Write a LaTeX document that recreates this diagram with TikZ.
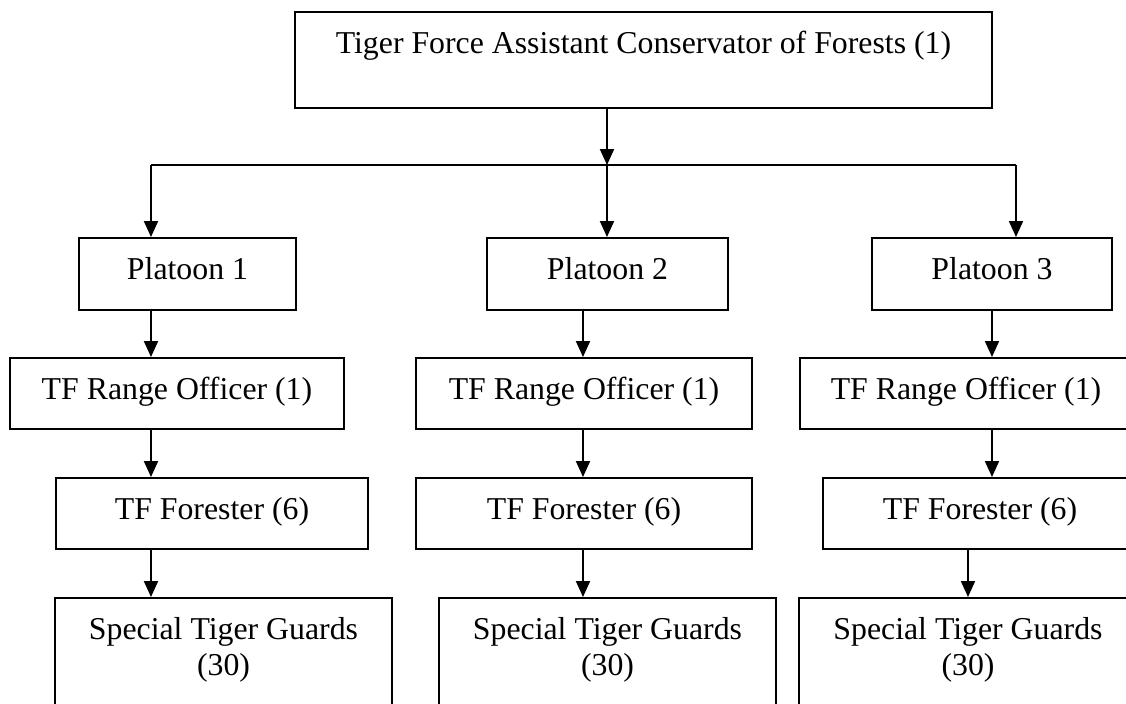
\documentclass[tikz,border=0pt]{standalone}
\usepackage{fontspec}
\setmainfont[Ligatures=NoCommon]{Liberation Serif}
\usetikzlibrary{arrows.meta}

\tikzset{
  unit/.style={draw, inner sep=0pt, anchor=north, text height=20.5pt,
    font=\fontsize{15.9pt}{18.3pt}\selectfont},
  guards/.style={unit, align=center, text height=38.8pt, text depth=24pt},
  feeds/.style={-{Triangle[length=8pt,width=7pt]}}
}

\begin{document}
\begin{tikzpicture}[x=0.5pt, y=-0.5pt, line width=1pt]

  \useasboundingbox (0,0) rectangle (1126,703);
  \clip (0,0) rectangle (1126,703);

  %% Head of the force.
  \node[unit, minimum width=348.5pt, text depth=27.5pt] (acf) at (643.5,11)
  {Tiger Force Assistant Conservator of Forests (1)};


  %% Platoons:
  \node[unit, minimum width=108.5pt, text depth=15.5pt] (p1) at (187.5,237) {Platoon 1};
  \node[unit, minimum width=120.5pt, text depth=15.5pt] (p2) at (607.5,237) {Platoon 2};
  \node[unit, minimum width=120pt, text depth=15.5pt] (p3) at (992,237) {Platoon 3};


  %% Range officers
  \node[unit, minimum width=167pt, text depth=15pt] (ro1) at (177,357) {TF Range Officer (1)};
  \node[unit, minimum width=168pt, text depth=15pt] (ro2) at (584,357) {TF Range Officer (1)};
  \node[unit, minimum width=166pt, text depth=15pt] (ro3) at (966,357) {TF Range Officer (1)};


  %% Foresters
  \node[unit, minimum width=156pt, text depth=15pt] (f1) at (212,477) {TF Forester (6)};
  \node[unit, minimum width=168pt, text depth=15pt] (f2) at (584,477) {TF Forester (6)};
  \node[unit, minimum width=157pt, text depth=15pt] (f3) at (980,477) {TF Forester (6)};


  %% Guards (boxes run off the bottom)
  \node[guards, minimum width=168.5pt] (s1) at (223.5,597) {Special Tiger Guards\\(30)};
  \node[guards, minimum width=168.5pt] (s2) at (607.5,597) {Special Tiger Guards\\(30)};
  \node[guards, minimum width=169pt] (s3) at (968,597) {Special Tiger Guards\\(30)};


  %% Bus from the head down to the platoons.
  \coordinate (bus1) at (151,165);
  \coordinate (bus2) at (607,165);
  \coordinate (bus3) at (1016,165);
  \draw[feeds] (acf.south -| bus2) -- (bus2);
  \draw (bus1) -- (bus3);
  \draw[feeds] (bus1) -- (bus1 |- p1.north);
  \draw[feeds] (bus2) -- (bus2 |- p2.north);
  \draw[feeds] (bus3) -- (bus3 |- p3.north);


  %% Chains inside each platoon
  \coordinate (lane2) at (583,0);
  \coordinate (lane3) at (992,0);

  \draw[feeds] (bus1 |- p1.south) -- (bus1 |- ro1.north);
  \draw[feeds] (bus1 |- ro1.south) -- (bus1 |- f1.north);
  \draw[feeds] (bus1 |- f1.south) -- (bus1 |- s1.north);

  \draw[feeds] (lane2 |- p2.south) -- (lane2 |- ro2.north);
  \draw[feeds] (lane2 |- ro2.south) -- (lane2 |- f2.north);
  \draw[feeds] (lane2 |- f2.south) -- (lane2 |- s2.north);

  \draw[feeds] (lane3 |- p3.south) -- (lane3 |- ro3.north);
  \draw[feeds] (lane3 |- ro3.south) -- (lane3 |- f3.north);
  \draw[feeds] (s3.north |- f3.south) -- (s3.north);

\end{tikzpicture}
\end{document}
